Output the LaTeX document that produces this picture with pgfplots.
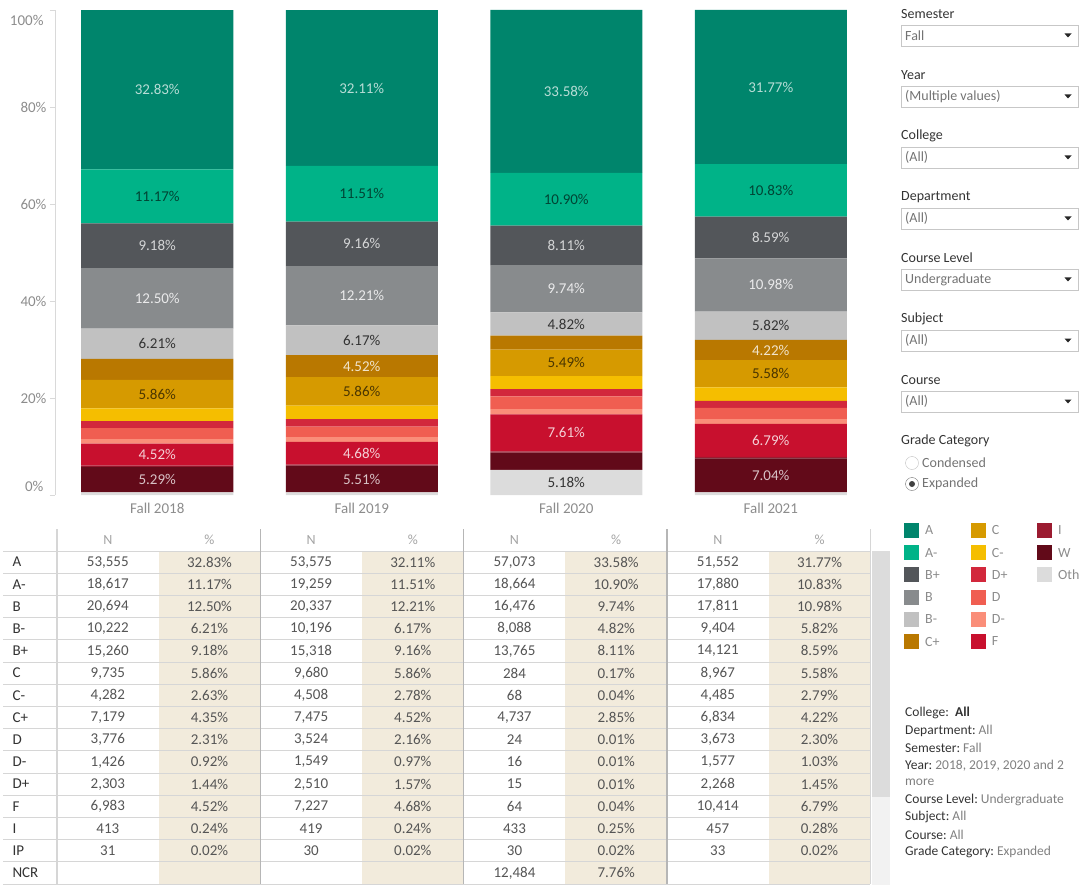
\documentclass[border=0pt]{standalone}
\usepackage{fontspec}
\setmainfont{Carlito}
\usepackage{pgfplots}
\pgfplotsset{compat=1.18}
\usepackage{pgfplotstable}

\definecolor{gA}{HTML}{00856C}
\definecolor{gAm}{HTML}{00B388}
\definecolor{gBp}{HTML}{53565A}
\definecolor{gB}{HTML}{888B8D}
\definecolor{gBm}{HTML}{C1C1C1}
\definecolor{gCp}{HTML}{B97800}
\definecolor{gC}{HTML}{D69A00}
\definecolor{gCm}{HTML}{F5BE00}
\definecolor{gDp}{HTML}{D2283C}
\definecolor{gD}{HTML}{F05E51}
\definecolor{gDm}{HTML}{FA8E79}
\definecolor{gF}{HTML}{C8102E}
\definecolor{gI}{HTML}{9B1B30}
\definecolor{gW}{HTML}{620A19}
\definecolor{gO}{HTML}{DCDCDC}
\definecolor{axgray}{HTML}{D9D9D9}
\definecolor{tickgray}{HTML}{8C8C8C}
\definecolor{txt}{HTML}{333333}
\definecolor{num}{HTML}{555555}
\definecolor{beige}{HTML}{F2EBDC}
\definecolor{rule}{HTML}{D6D6D6}

\newcommand\fs[1]{\fontsize{#1}{#1}\selectfont}

% share of each grade, bottom of the stack first
\pgfplotstableread{
x Oth W I F Dm D Dp Cm C Cp Bm B Bp Am A
0 0.53 5.29 0.24 4.52 0.92 2.31 1.44 2.63 5.86 4.35 6.21 12.50 9.18 11.17 32.83
1 0.53 5.51 0.24 4.68 0.97 2.16 1.57 2.78 5.86 4.52 6.17 12.21 9.16 11.51 32.11
2 5.18 3.57 0.25 7.61 1.10 2.65 1.45 2.70 5.49 2.85 4.82 9.74 8.11 10.90 33.58
3 0.53 7.04 0.28 6.79 1.03 2.30 1.45 2.79 5.58 4.22 5.82 10.98 8.59 10.83 31.77
}\grades

\newcommand\lab[4]{\node[font=\fs{15},text=#4] at (axis cs:#1,#2) {#3\%};}

\begin{document}
\begin{tikzpicture}
\begin{axis}[
  at={(55pt,-495pt)}, anchor=south west,
  scale only axis, width=818pt, height=485pt,
  xmin=-0.5, xmax=3.5, ymin=0, ymax=100,
  ybar stacked, bar width=152pt,
  axis y line*=left, axis x line*=bottom,
  x axis line style={draw=none},
  y axis line style={draw=axgray},
  xtick={0,1,2,3}, xticklabels={Fall 2018,Fall 2019,Fall 2020,Fall 2021},
  x tick style={draw=none},
  ytick={0,20,40,60,80,100},
  yticklabels={,20\%,40\%,60\%,80\%,},
  y tick style={draw=axgray}, tick align=outside, major tick length=5pt,
  tick label style={font=\fs{15}, text=tickgray},
  clip=false,
]
\addplot[fill=gO, draw=none] table[x=x,y=Oth]{\grades};
\addplot[fill=gW, draw=none] table[x=x,y=W]{\grades};
\addplot[fill=gI, draw=none] table[x=x,y=I]{\grades};
\addplot[fill=gF, draw=none] table[x=x,y=F]{\grades};
\addplot[fill=gDm, draw=none] table[x=x,y=Dm]{\grades};
\addplot[fill=gD, draw=none] table[x=x,y=D]{\grades};
\addplot[fill=gDp, draw=none] table[x=x,y=Dp]{\grades};
\addplot[fill=gCm, draw=none] table[x=x,y=Cm]{\grades};
\addplot[fill=gC, draw=none] table[x=x,y=C]{\grades};
\addplot[fill=gCp, draw=none] table[x=x,y=Cp]{\grades};
\addplot[fill=gBm, draw=none] table[x=x,y=Bm]{\grades};
\addplot[fill=gB, draw=none] table[x=x,y=B]{\grades};
\addplot[fill=gBp, draw=none] table[x=x,y=Bp]{\grades};
\addplot[fill=gAm, draw=none] table[x=x,y=Am]{\grades};
\addplot[fill=gA, draw=none] table[x=x,y=A]{\grades};

\node[anchor=east,font=\fs{15},text=tickgray] at (axis cs:-0.5,100) [xshift=-8pt,yshift=-10pt] {100\%};
\node[anchor=east,font=\fs{15},text=tickgray] at (axis cs:-0.5,0) [xshift=-8pt,yshift=9pt] {0\%};
\end{axis}

% segment labels, in an overlaid axis so that they lie above the bars
\begin{axis}[
  at={(55pt,-495pt)}, anchor=south west,
  scale only axis, width=818pt, height=485pt,
  xmin=-0.5, xmax=3.5, ymin=0, ymax=100,
  hide axis, clip=false,
]
\lab{0}{83.565}{32.83}{white!72!gA}
\lab{0}{61.565}{11.17}{black!62!gAm}
\lab{0}{51.39}{9.18}{white!75!gBp}
\lab{0}{40.55}{12.50}{white!82!gB}
\lab{0}{31.195}{6.21}{txt}
\lab{0}{20.81}{5.86}{black!65!gC}
\lab{0}{8.32}{4.52}{white!80!gF}
\lab{0}{3.175}{5.29}{white!75!gW}

\lab{1}{83.925}{32.11}{white!72!gA}
\lab{1}{62.115}{11.51}{black!62!gAm}
\lab{1}{51.78}{9.16}{white!75!gBp}
\lab{1}{41.095}{12.21}{white!82!gB}
\lab{1}{31.905}{6.17}{txt}
\lab{1}{26.56}{4.52}{white!80!gCp}
\lab{1}{21.37}{5.86}{black!65!gC}
\lab{1}{8.62}{4.68}{white!80!gF}
\lab{1}{3.285}{5.51}{white!75!gW}

\lab{2}{83.21}{33.58}{white!72!gA}
\lab{2}{60.97}{10.90}{black!62!gAm}
\lab{2}{51.465}{8.11}{white!75!gBp}
\lab{2}{42.54}{9.74}{white!82!gB}
\lab{2}{35.26}{4.82}{txt}
\lab{2}{27.255}{5.49}{black!65!gC}
\lab{2}{12.805}{7.61}{white!80!gF}
\lab{2}{2.59}{5.18}{txt}

\lab{3}{84.115}{31.77}{white!72!gA}
\lab{3}{62.815}{10.83}{black!62!gAm}
\lab{3}{53.105}{8.59}{white!75!gBp}
\lab{3}{43.32}{10.98}{white!82!gB}
\lab{3}{34.92}{5.82}{txt}
\lab{3}{29.9}{4.22}{white!80!gCp}
\lab{3}{25.0}{5.58}{black!65!gC}
\lab{3}{11.245}{6.79}{white!80!gF}
\lab{3}{4.05}{7.04}{white!75!gW}
\end{axis}

\begin{scope}[x=1pt,y=-1pt]
\path[use as bounding box] (0,0) rectangle (1081,885);

% ---- table ----
\foreach \b in {57,260.3,463.7,667} {
  \fill[beige] (\b+101.7,551) rectangle (\b+203.3,884);
  \node[font=\fs{14},text=tickgray!80] at (\b+50.8,540) {N};
  \node[font=\fs{14},text=tickgray!80] at (\b+152.5,540) {\%};
}
\foreach \k in {0,...,15} \draw[rule,line width=1pt] (3,551+22.2*\k) -- (870.3,551+22.2*\k);
\draw[rule,line width=1.2pt] (57,529) -- (57,884);
\foreach \b in {260.3,463.7,667} \draw[rule!85!black,line width=1.4pt] (\b,529) -- (\b,884);
\draw[rule,line width=1pt] (870.3,529) -- (870.3,884);
\fill[black!5] (872,551) rectangle (890,885);
\fill[gO] (872,551) rectangle (890,797);

\foreach \nm/\na/\pa/\nb/\pb/\nc/\pc/\nd/\pd [count=\i] in {
  A/{53,555}/32.83\%/{53,575}/32.11\%/{57,073}/33.58\%/{51,552}/31.77\%,
  A-/{18,617}/11.17\%/{19,259}/11.51\%/{18,664}/10.90\%/{17,880}/10.83\%,
  B/{20,694}/12.50\%/{20,337}/12.21\%/{16,476}/9.74\%/{17,811}/10.98\%,
  B-/{10,222}/6.21\%/{10,196}/6.17\%/{8,088}/4.82\%/{9,404}/5.82\%,
  B+/{15,260}/9.18\%/{15,318}/9.16\%/{13,765}/8.11\%/{14,121}/8.59\%,
  C/{9,735}/5.86\%/{9,680}/5.86\%/284/0.17\%/{8,967}/5.58\%,
  C-/{4,282}/2.63\%/{4,508}/2.78\%/68/0.04\%/{4,485}/2.79\%,
  C+/{7,179}/4.35\%/{7,475}/4.52\%/{4,737}/2.85\%/{6,834}/4.22\%,
  D/{3,776}/2.31\%/{3,524}/2.16\%/24/0.01\%/{3,673}/2.30\%,
  D-/{1,426}/0.92\%/{1,549}/0.97\%/16/0.01\%/{1,577}/1.03\%,
  D+/{2,303}/1.44\%/{2,510}/1.57\%/15/0.01\%/{2,268}/1.45\%,
  F/{6,983}/4.52\%/{7,227}/4.68\%/64/0.04\%/{10,414}/6.79\%,
  I/413/0.24\%/419/0.24\%/433/0.25\%/457/0.28\%,
  IP/31/0.02\%/30/0.02\%/30/0.02\%/33/0.02\%,
  NCR/{}/{}/{}/{}/{12,484}/7.76\%/{}/{}} {
  \pgfmathsetmacro\yc{551+22.2*(\i-0.5)}
  \node[anchor=west,font=\fs{15},text=txt] at (9,\yc) {\nm};
  \node[font=\fs{15},text=num] at (107.8,\yc) {\na};
  \node[font=\fs{15},text=num] at (209.5,\yc) {\pa};
  \node[font=\fs{15},text=num] at (311.1,\yc) {\nb};
  \node[font=\fs{15},text=num] at (412.8,\yc) {\pb};
  \node[font=\fs{15},text=num] at (514.5,\yc) {\nc};
  \node[font=\fs{15},text=num] at (616.2,\yc) {\pc};
  \node[font=\fs{15},text=num] at (717.8,\yc) {\nd};
  \node[font=\fs{15},text=num] at (819.5,\yc) {\pd};
}

% ---- filters ----
\foreach \L/\t/\v in {14/Semester/Fall, 75/Year/(Multiple values), 136/College/(All),
  197/Department/(All), 258/Course Level/Undergraduate, 319/Subject/(All), 380/Course/(All)} {
  \node[anchor=west,font=\fs{14},text=txt,inner sep=0pt] at (901,\L) {\t};
  \draw[black!22] (901.5,\L+11) rectangle (1078.5,\L+32);
  \node[anchor=west,font=\fs{14},text=black!55,inner sep=0pt] at (905,\L+21.5) {\v};
  \fill[black!85] (1064.5,\L+19.5) -- (1071.5,\L+19.5) -- (1068,\L+23.5) -- cycle;
}
\node[anchor=west,font=\fs{14},text=txt,inner sep=0pt] at (901,441) {Grade Category};
\draw[black!25] (912,463) circle (6.5);
\node[anchor=west,font=\fs{14},text=black!55,inner sep=0pt] at (922,463) {Condensed};
\draw[black!55] (912,484) circle (6.5);
\fill[black!75] (912,484) circle (3);
\node[anchor=west,font=\fs{14},text=black!55,inner sep=0pt] at (922,484) {Expanded};

% ---- legend ----
\foreach \c/\t [count=\k from 0] in {gA/A,gAm/A-,gBp/B+,gB/B,gBm/B-,gCp/C+} {
  \fill[\c] (904,523+22.2*\k) rectangle (919,538+22.2*\k);
  \node[anchor=west,font=\fs{14},text=tickgray,inner sep=0pt] at (925,530.5+22.2*\k) {\t};
}
\foreach \c/\t [count=\k from 0] in {gC/C,gCm/C-,gDp/D+,gD/D,gDm/D-,gF/F} {
  \fill[\c] (970.7,523+22.2*\k) rectangle (985.7,538+22.2*\k);
  \node[anchor=west,font=\fs{14},text=tickgray,inner sep=0pt] at (991.7,530.5+22.2*\k) {\t};
}
\foreach \c/\t [count=\k from 0] in {gI/I,gW/W,gO/Oth} {
  \fill[\c] (1037,523+22.2*\k) rectangle (1052,538+22.2*\k);
  \node[anchor=west,font=\fs{14},text=tickgray,inner sep=0pt] at (1058,530.5+22.2*\k) {\t};
}

% ---- filter summary ----
\foreach \a/\v [count=\k from 0] in {{College:\ }/\textbf{\color{txt}All}, Department:/All, Semester:/Fall,
  Year:/{2018, 2019, 2020 and 2}, {}/more, {Course Level:}/Undergraduate, Subject:/All, Course:/All,
  {Grade Category:}/Expanded} {
  \node[anchor=west,font=\fs{13.5},inner sep=0pt] at (905,713+17.4*\k) {\textcolor{txt}{\a}\ifx\a\empty\else\ \fi\textcolor{black!50}{\v}};
}
\end{scope}
\end{tikzpicture}
\end{document}
